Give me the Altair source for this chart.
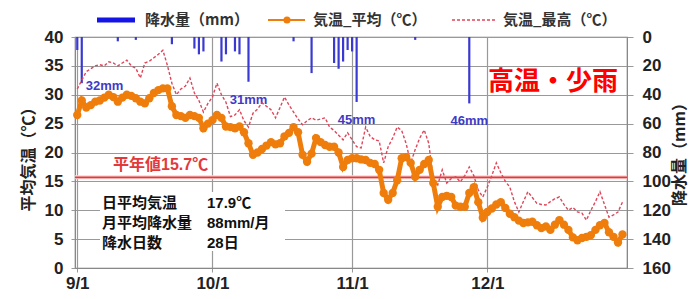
import altair as alt
import pandas as pd

# ---------------- data ----------------
start_date = "2023-09-01"
n_days = 122

temp_avg = [
    26.5, 29.0, 27.8, 28.2, 28.8, 29.0, 29.5, 30.0, 29.6, 28.8,
    29.5, 30.0, 29.8, 29.4, 28.8, 28.5, 29.4, 30.3, 30.8, 31.1,
    31.1, 28.0, 26.5, 26.3, 26.0, 26.5, 26.3, 26.0, 24.2, 25.0,
    25.6, 26.5, 26.0, 24.5, 24.4, 24.2, 24.5, 23.5, 21.6, 19.6,
    20.0, 20.6, 21.2, 21.8, 21.4, 21.6, 22.8, 23.4, 24.4, 23.5,
    19.6, 18.4, 19.8, 22.5, 21.8, 21.3, 21.0, 21.0, 20.0, 17.5,
    18.7, 19.0, 19.0, 18.8, 18.7, 18.2, 18.0, 17.0, 13.0, 11.8,
    13.0, 15.2, 19.0, 19.2, 18.2, 15.8, 17.0, 18.0, 18.7, 14.7,
    10.6, 12.3, 12.5, 12.3, 10.8, 10.6, 10.6, 13.0, 14.0, 11.4,
    8.7, 9.7, 10.3, 11.0, 11.4, 10.4, 9.4, 8.8, 8.2, 7.8,
    7.9, 8.0, 7.4, 6.9, 7.2, 6.6, 7.5, 8.3, 7.5, 6.6,
    5.3, 4.8, 5.2, 5.4, 5.7, 6.6, 7.4, 7.8, 6.2, 5.4, 4.4, 5.8,
]

temp_max = [
    31.0, 32.5, 34.0, 34.5, 35.0, 35.2, 35.0, 35.7, 35.5, 35.0,
    35.5, 36.0, 35.0, 34.6, 32.9, 35.5, 35.8, 36.4, 37.0, 37.7,
    35.1, 32.0, 30.0, 31.0, 31.5, 32.9, 30.3, 29.0, 27.0, 28.5,
    29.6, 32.0, 30.0, 28.7, 26.2, 26.5, 27.4, 25.5, 24.4, 26.8,
    27.5, 28.6, 28.0, 27.4, 26.0, 27.8, 29.6, 28.2, 27.0, 25.8,
    24.8, 25.5, 26.0, 25.6, 25.8, 26.0, 24.4, 23.8, 23.0, 22.2,
    23.4, 22.2, 21.0, 20.8, 24.4, 22.8, 22.2, 22.0, 18.2, 21.0,
    22.5, 24.4, 23.8, 21.5, 18.2, 20.5, 22.5, 23.9, 21.6, 15.5,
    14.4, 17.0, 14.7, 15.5, 15.8, 14.9, 16.0, 17.5, 16.0, 13.5,
    12.3, 14.0, 16.0, 18.2, 16.5, 15.0, 14.0, 11.5, 9.7, 11.5,
    13.2, 12.2, 11.2, 11.0, 10.9, 11.5, 12.0, 12.3, 11.0, 10.0,
    10.5, 9.7, 9.5, 8.3, 10.0, 11.5, 13.2, 11.0, 8.8, 9.2, 9.7, 11.4,
]

rain_dates = [
    "2023-09-01", "2023-09-02", "2023-09-10", "2023-09-14", "2023-09-22",
    "2023-09-27", "2023-09-28", "2023-09-29", "2023-10-03", "2023-10-04",
    "2023-10-06", "2023-10-07", "2023-10-09", "2023-10-19", "2023-10-23",
    "2023-10-28", "2023-10-29", "2023-10-30", "2023-10-31", "2023-11-01",
    "2023-11-02", "2023-11-15", "2023-11-27",
]
rain_mm = [9, 32, 3, 2, 5, 8, 12, 10, 17, 12, 10, 12, 31, 3, 25, 18, 22, 17, 9, 10, 45, 2, 46]

label_dates_side = ["2023-09-02"]
label_mm_side = [32]
label_dates_below = ["2023-10-09", "2023-11-02", "2023-11-27"]
label_mm_below = [31, 45, 46]

normal_temp = 15.7
normal_label = "平年値15.7℃"
stat_names = ["日平均気温", "月平均降水量", "降水日数"]
stat_values = ["17.9℃", "88mm/月", "28日"]
headline = "高温・少雨"
legend_names = ["降水量（mm）", "気温_平均（℃）", "気温_最高（℃）"]
temp_ticks = [0, 5, 10, 15, 20, 25, 30, 35, 40]
rain_ticks = [0, 20, 40, 60, 80, 100, 120, 140, 160]

# ---------------- frames ----------------
dates = pd.date_range(start_date, periods=n_days, freq="D").strftime("%Y-%m-%d")
df_t = pd.DataFrame({"date": dates, "avg": temp_avg, "tmax": temp_max})
df_p = pd.DataFrame({"date": rain_dates, "precip": rain_mm})
df_ls = pd.DataFrame({"date": label_dates_side, "precip": label_mm_side,
                      "label": [f"{v}mm" for v in label_mm_side]})
df_lb = pd.DataFrame({"date": label_dates_below, "precip": label_mm_below,
                      "label": [f"{v}mm" for v in label_mm_below]})
one = pd.DataFrame({"k": [0]})

# ---------------- styles ----------------
ORANGE = "#ef7d0c"
RED_DASH = "#e0465a"
BLUE_BAR = "#3a3ad2"
BLUE_LEG = "#1414e6"
REF_RED = "#e23a3a"
GRID = "#999999"
NUM_FONT = "Liberation Sans"
JP_FONT = "Noto Sans CJK JP"

xscale = alt.Scale(
    type="utc",
    domain=[alt.DateTime(year=2023, month=8, date=31, hours=12, utc=True),
            alt.DateTime(year=2024, month=1, date=1, utc=True)],
)
xaxis = alt.Axis(
    values=[alt.DateTime(year=2023, month=m, date=1, utc=True) for m in (9, 10, 11, 12)],
    format="%-m/%-d", grid=True, gridColor=GRID, gridWidth=1.2,
    tickSize=4, tickColor=GRID, domainColor="#888", labelPadding=3,
    labelFontSize=17, labelFontWeight="bold", labelFont=NUM_FONT, labelColor="#222",
    title=None,
)
xenc = alt.X("date:T", scale=xscale, axis=xaxis)

tscale = alt.Scale(domain=[0, 40], nice=False, zero=False)
taxis = alt.Axis(
    orient="left", values=temp_ticks, grid=True, gridColor=GRID, gridWidth=1.2,
    tickSize=4, tickColor=GRID, domainColor="#888", labelPadding=8,
    labelFontSize=17, labelFontWeight="bold", labelFont=NUM_FONT, labelColor="#222",
    title="平均気温（℃）", titleFont=JP_FONT, titleFontSize=16, titleFontWeight="bold",
    titleColor="#222", titleAngle=-90, titleX=-47, titleY=118,
    titleAlign="center", titleBaseline="middle",
)
pscale = alt.Scale(domain=[0, 160], nice=False, reverse=True)
paxis = alt.Axis(
    orient="right", values=rain_ticks, grid=False,
    tickSize=6, tickColor=GRID, domainColor="#888", labelPadding=9,
    labelFontSize=17, labelFontWeight="bold", labelFont=NUM_FONT, labelColor="#222",
    title="降水量（mm）", titleFont=JP_FONT, titleFontSize=16, titleFontWeight="bold",
    titleColor="#222", titleAngle=-90, titleX=52, titleY=113,
    titleAlign="center", titleBaseline="middle",
)


def ty(field):
    return alt.Y(field, type="quantitative", scale=tscale, axis=taxis)


def py(field):
    return alt.Y(field, type="quantitative", scale=pscale, axis=paxis)


# ---------------- precipitation layer ----------------
bars = alt.Chart(df_p).mark_rule(color=BLUE_BAR, strokeWidth=2.2).encode(
    x=xenc, y=py("precip"), y2=alt.Y2Datum(0)
)
lab_side = alt.Chart(df_ls).mark_text(
    align="left", baseline="middle", dx=4, dy=3, color="#3c3cc8",
    fontSize=13, fontWeight="bold", font=NUM_FONT,
).encode(x=xenc, y=py("precip"), text="label:N")
lab_below = alt.Chart(df_lb).mark_text(
    align="center", baseline="middle", dy=18, color="#3c3cc8",
    fontSize=13, fontWeight="bold", font=NUM_FONT,
).encode(x=xenc, y=py("precip"), text="label:N")
precip_layer = alt.layer(bars, lab_side, lab_below)

# ---------------- temperature layer ----------------
base = alt.Chart(df_t)
ref_band = alt.Chart(one).mark_rule(color="#f8d6d6", strokeWidth=4).encode(
    y=alt.YDatum(normal_temp, scale=tscale, axis=taxis, type="quantitative"))
ref_line = alt.Chart(one).mark_rule(color=REF_RED, strokeWidth=1.6).encode(
    y=alt.YDatum(normal_temp, scale=tscale, axis=taxis, type="quantitative"))
ref_text = alt.Chart(one).mark_text(
    text=normal_label, align="left", baseline="middle", dy=-12, color=REF_RED,
    fontSize=16, fontWeight="bold", font=f"{NUM_FONT}, {JP_FONT}",
).encode(x=alt.value(38), y=alt.YDatum(normal_temp, scale=tscale, axis=taxis, type="quantitative"))

tmax_line = base.mark_line(color=RED_DASH, strokeWidth=1.4, strokeDash=[3, 2]).encode(
    x=xenc, y=ty("tmax"))
avg_line = base.mark_line(color=ORANGE, strokeWidth=5).encode(x=xenc, y=ty("avg"))
avg_pts = base.mark_circle(color=ORANGE, size=70, opacity=1).encode(x=xenc, y=ty("avg"))

box = alt.Chart(one).mark_rect(color="white").encode(
    x=alt.value(25), x2=alt.value(210), y=alt.value(155), y2=alt.value(214))
stat_layers = []
for i, (nm, val) in enumerate(zip(stat_names, stat_values)):
    yy = 166 + 20 * i
    stat_layers.append(alt.Chart(one).mark_text(
        text=nm, align="left", baseline="middle", fontSize=15, fontWeight="bold",
        font=JP_FONT, color="#111").encode(x=alt.value(27), y=alt.value(yy)))
    stat_layers.append(alt.Chart(one).mark_text(
        text=val, align="left", baseline="middle", fontSize=15, fontWeight="bold",
        font=f"{NUM_FONT}, {JP_FONT}", color="#111").encode(x=alt.value(132), y=alt.value(yy)))

head = alt.Chart(one).mark_text(
    text=headline, align="center", baseline="middle", fontSize=26, fontWeight="bold",
    font=JP_FONT, color="#ff0000").encode(x=alt.value(478), y=alt.value(45))

# legend (drawn manually above the plot)
LY = -17
leg = [
    alt.Chart(one).mark_rule(color=BLUE_LEG, strokeWidth=5).encode(
        x=alt.value(22), x2=alt.value(60), y=alt.value(LY)),
    alt.Chart(one).mark_text(text=legend_names[0], align="left", baseline="middle",
                             fontSize=15, fontWeight="bold", font=JP_FONT, color="#333").encode(
        x=alt.value(70), y=alt.value(LY)),
    alt.Chart(one).mark_rule(color=ORANGE, strokeWidth=2).encode(
        x=alt.value(193), x2=alt.value(230), y=alt.value(LY)),
    alt.Chart(one).mark_circle(color=ORANGE, size=50, opacity=1).encode(
        x=alt.value(212), y=alt.value(LY)),
    alt.Chart(one).mark_text(text=legend_names[1], align="left", baseline="middle",
                             fontSize=15, fontWeight="bold", font=JP_FONT, color="#333").encode(
        x=alt.value(238), y=alt.value(LY)),
    alt.Chart(one).mark_rule(color=RED_DASH, strokeWidth=1.4, strokeDash=[3, 2]).encode(
        x=alt.value(377), x2=alt.value(420), y=alt.value(LY)),
    alt.Chart(one).mark_text(text=legend_names[2], align="left", baseline="middle",
                             fontSize=15, fontWeight="bold", font=JP_FONT, color="#333").encode(
        x=alt.value(428), y=alt.value(LY)),
]

temp_layer = alt.layer(ref_band, ref_line, ref_text, tmax_line, avg_line, avg_pts,
                       box, *stat_layers, head, *leg)

chart = alt.layer(precip_layer, temp_layer).resolve_scale(y="independent").properties(
    width=552, height=231,
    autosize=alt.AutoSizeParams(type="none"),
    padding={"left": 67, "top": 29, "right": 61, "bottom": 23},
    background="white",
).configure_view(stroke="#7a7a7a", strokeWidth=1.2)

chart.save("out.html", embed_options={"renderer": "svg", "actions": False})
